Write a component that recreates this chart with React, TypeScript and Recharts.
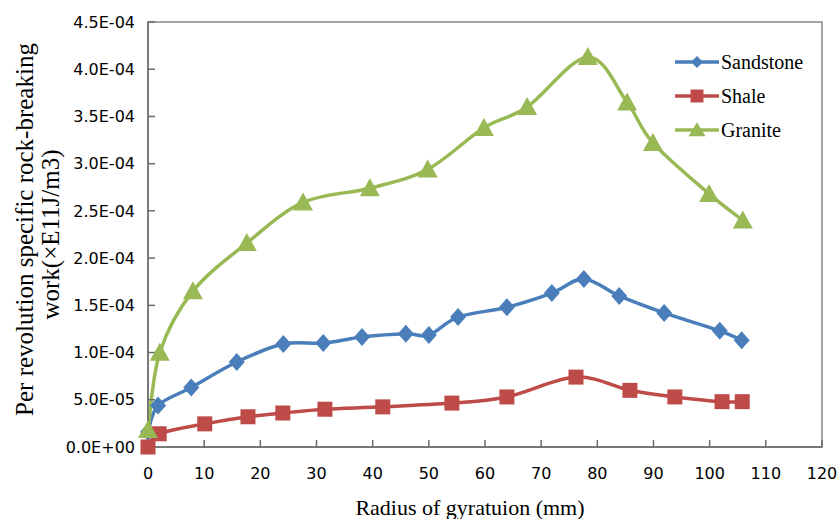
import React from 'react';
import { LineChart, Line, XAxis, YAxis, ReferenceArea, Legend } from 'recharts';

const xTicks = [0, 10, 20, 30, 40, 50, 60, 70, 80, 90, 100, 110, 120];
const yTicks = [0, 5e-5, 1e-4, 1.5e-4, 2e-4, 2.5e-4, 3e-4, 3.5e-4, 4e-4, 4.5e-4];

const seriesNames = ['Sandstone', 'Shale', 'Granite'];
const seriesColors = ['#4A7EBB', '#BE4B48', '#98B954'];

const sandstoneX = [0, 1.8, 7.7, 15.8, 24.1, 31.2, 38.1, 45.9, 50.0, 55.2, 63.9, 71.9, 77.6, 83.9, 91.9, 101.8, 105.7];
const sandstoneY = [1.6e-5, 4.4e-5, 6.3e-5, 9.0e-5, 1.09e-4, 1.10e-4, 1.165e-4, 1.2e-4, 1.186e-4, 1.376e-4, 1.48e-4, 1.63e-4, 1.78e-4, 1.6e-4, 1.42e-4, 1.23e-4, 1.13e-4];

const shaleX = [0, 2.0, 10.1, 17.8, 24.0, 31.5, 41.8, 54.1, 63.9, 76.2, 85.8, 93.8, 102.2, 105.8];
const shaleY = [0, 1.4e-5, 2.45e-5, 3.2e-5, 3.6e-5, 4.0e-5, 4.25e-5, 4.65e-5, 5.3e-5, 7.4e-5, 6.0e-5, 5.3e-5, 4.8e-5, 4.8e-5];

const graniteX = [0, 2.1, 8.0, 17.6, 27.6, 39.5, 49.8, 59.8, 67.5, 78.3, 85.3, 89.9, 99.9, 105.9];
const graniteY = [1.8e-5, 1.0e-4, 1.65e-4, 2.16e-4, 2.59e-4, 2.74e-4, 2.94e-4, 3.38e-4, 3.6e-4, 4.13e-4, 3.65e-4, 3.22e-4, 2.68e-4, 2.4e-4];

const toPoints = (xs: number[], ys: number[]) => xs.map((x, i) => ({ x, y: ys[i] }));
const sandstoneData = toPoints(sandstoneX, sandstoneY);
const shaleData = toPoints(shaleX, shaleY);
const graniteData = toPoints(graniteX, graniteY);

const fmtY = (v: number) => {
  if (v === 0) return '0.0E+00';
  const [m, e] = v.toExponential(1).split('e');
  const n = parseInt(e, 10);
  const sign = n < 0 ? '-' : '+';
  const abs = Math.abs(n);
  return `${m}E${sign}${abs < 10 ? '0' + abs : abs}`;
};

// Catmull-Rom style smoothing (similar to Excel smoothed lines)
function smoothCurve(context: any) {
  let pts: [number, number][] = [];
  return {
    areaStart() {},
    areaEnd() {},
    lineStart() {
      pts = [];
    },
    point(x: number, y: number) {
      pts.push([+x, +y]);
    },
    lineEnd() {
      if (pts.length === 0) return;
      context.moveTo(pts[0][0], pts[0][1]);
      if (pts.length === 1) return;
      for (let i = 0; i < pts.length - 1; i++) {
        const p0 = pts[i - 1] || pts[i];
        const p1 = pts[i];
        const p2 = pts[i + 1];
        const p3 = pts[i + 2] || p2;
        const k = 1 / 6;
        const c1x = p1[0] + (p2[0] - p0[0]) * k;
        const c1y = p1[1] + (p2[1] - p0[1]) * k;
        const c2x = p2[0] - (p3[0] - p1[0]) * k;
        const c2y = p2[1] - (p3[1] - p1[1]) * k;
        context.bezierCurveTo(c1x, c1y, c2x, c2y, p2[0], p2[1]);
      }
    },
  };
}

const Diamond = (props: any) => {
  const { cx, cy, fill, hw = 8, hh = 9 } = props;
  if (cx == null || cy == null) return null;
  return <polygon points={`${cx},${cy - hh} ${cx + hw},${cy} ${cx},${cy + hh} ${cx - hw},${cy}`} fill={fill} />;
};
const Square = (props: any) => {
  const { cx, cy, fill, s = 15 } = props;
  if (cx == null || cy == null) return null;
  return <rect x={cx - s / 2} y={cy - s / 2} width={s} height={s} fill={fill} />;
};
const Triangle = (props: any) => {
  const { cx, cy, fill, w = 20, h = 18 } = props;
  if (cx == null || cy == null) return null;
  return <polygon points={`${cx},${cy - h * 0.55} ${cx + w / 2},${cy + h * 0.45} ${cx - w / 2},${cy + h * 0.45}`} fill={fill} />;
};

const markerFns = [
  (p: any) => <Diamond key={`d-${p.index}`} cx={p.cx} cy={p.cy} fill={seriesColors[0]} />,
  (p: any) => <Square key={`s-${p.index}`} cx={p.cx} cy={p.cy} fill={seriesColors[1]} />,
  (p: any) => <Triangle key={`t-${p.index}`} cx={p.cx} cy={p.cy} fill={seriesColors[2]} />,
];

const renderLegend = () => (
  <div style={{ fontFamily: '"Liberation Serif", "Times New Roman", serif', fontSize: 20, color: '#000' }}>
    {seriesNames.map((name, i) => (
      <div key={name} style={{ display: 'flex', alignItems: 'center', height: 34 }}>
        <svg width={46} height={24} style={{ display: 'block' }}>
          <line x1={0} y1={12} x2={44} y2={12} stroke={seriesColors[i]} strokeWidth={3.5} />
          {i === 0 && <Diamond cx={22} cy={12} fill={seriesColors[0]} hw={6} hh={6} />}
          {i === 1 && <Square cx={22} cy={12} fill={seriesColors[1]} s={13} />}
          {i === 2 && <Triangle cx={22} cy={12} fill={seriesColors[2]} w={17} h={14} />}
        </svg>
        <span style={{ lineHeight: '24px' }}>{name}</span>
      </div>
    ))}
  </div>
);

const YLabel = (props: any) => {
  const vb = props.viewBox || { y: 22, height: 425 };
  const cy = vb.y + vb.height / 2;
  const font = '"Liberation Serif", "Times New Roman", serif';
  return (
    <g>
      <text x={24} y={cy - 5} transform={`rotate(-90, 24, ${cy - 5})`} textAnchor="middle" dominantBaseline="central" fontFamily={font} fontSize={25} fill="#000">
        Per revolution specific rock-breaking
      </text>
      <text x={50} y={cy} transform={`rotate(-90, 50, ${cy})`} textAnchor="middle" dominantBaseline="central" fontFamily={font} fontSize={25} fill="#000">
        work(×E11J/m3)
      </text>
    </g>
  );
};

const XLabel = (props: any) => {
  const vb = props.viewBox || { x: 148, y: 447, width: 674 };
  const cx = vb.x + vb.width / 2 - 15;
  return (
    <text x={cx} y={vb.y + 68} textAnchor="middle" fontFamily='"Liberation Serif", "Times New Roman", serif' fontSize={22} fill="#000">
      Radius of gyratuion (mm)
    </text>
  );
};

const tickStyle = { fontFamily: '"DejaVu Sans", sans-serif', fontSize: 16, fill: '#000' };
const axisColor = '#6b6b6b';

export default function App() {
  return (
    <div style={{ position: 'absolute', left: 0, top: 0, background: '#fff' }}>
      <LineChart width={839} height={519} margin={{ top: 22, right: 17, bottom: 0, left: 0 }}>
        <ReferenceArea x1={0} x2={120} y1={0} y2={4.5e-4} fill="none" stroke="#888" strokeWidth={1.5} ifOverflow="visible" />
        <XAxis
          type="number"
          dataKey="x"
          domain={[0, 120]}
          ticks={xTicks}
          interval={0}
          height={72}
          tickSize={-7}
          tickMargin={28}
          tick={tickStyle}
          stroke={axisColor}
          strokeWidth={1.5}
          label={<XLabel />}
        />
        <YAxis
          type="number"
          dataKey="y"
          domain={[0, 4.5e-4]}
          ticks={yTicks}
          interval={0}
          width={148}
          tickSize={-7}
          tickMargin={20}
          tickFormatter={fmtY}
          tick={tickStyle}
          stroke={axisColor}
          strokeWidth={1.5}
          label={<YLabel />}
        />
        <Legend
          layout="vertical"
          align="center"
          verticalAlign="middle"
          content={renderLegend}
          wrapperStyle={{ position: 'absolute', left: 675, top: 45, width: 160, height: 110 }}
        />
        <Line data={sandstoneData} dataKey="y" name={seriesNames[0]} type={smoothCurve as any} stroke={seriesColors[0]} strokeWidth={3.5} dot={markerFns[0]} activeDot={false} isAnimationActive={false} />
        <Line data={shaleData} dataKey="y" name={seriesNames[1]} type={smoothCurve as any} stroke={seriesColors[1]} strokeWidth={3.5} dot={markerFns[1]} activeDot={false} isAnimationActive={false} />
        <Line data={graniteData} dataKey="y" name={seriesNames[2]} type={smoothCurve as any} stroke={seriesColors[2]} strokeWidth={3.5} dot={markerFns[2]} activeDot={false} isAnimationActive={false} />
      </LineChart>
    </div>
  );
}
